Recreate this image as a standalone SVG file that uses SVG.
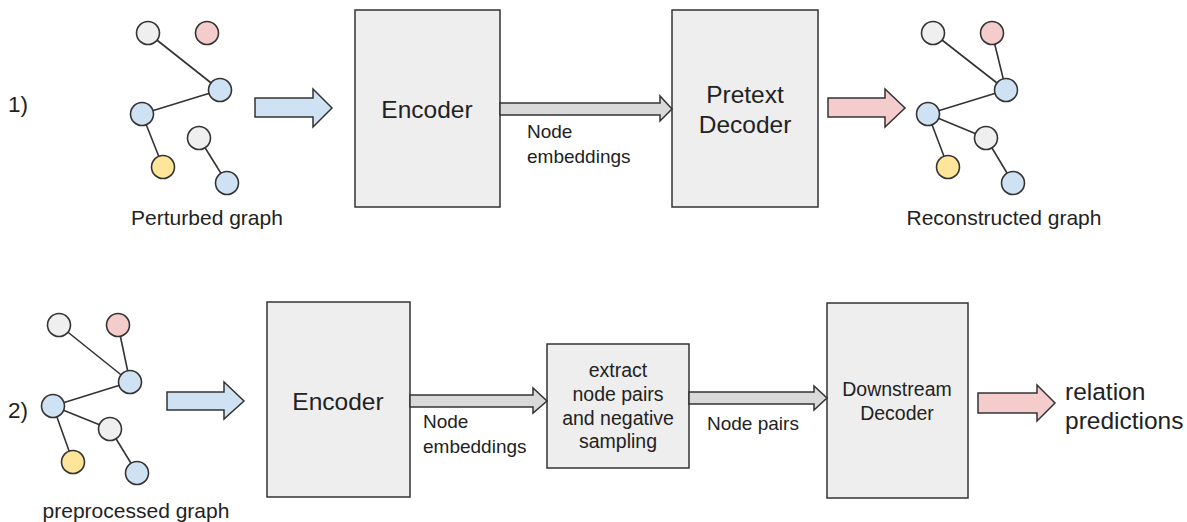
<svg xmlns="http://www.w3.org/2000/svg" width="1187" height="522" viewBox="0 0 1187 522">
<style>
text{font-family:"Liberation Sans",Arial,sans-serif;fill:#222}
.box{fill:#eeeeee;stroke:#333;stroke-width:1.5}
.n{stroke:#333;stroke-width:1.6}
.g{fill:#efefef}.b{fill:#cfe2f3}.p{fill:#f4cccc}.y{fill:#ffe599}
.e{stroke:#333;stroke-width:1.6;fill:none}
.ab{fill:#cfe2f3;stroke:#333;stroke-width:1.5}
.ap{fill:#f4cccc;stroke:#333;stroke-width:1.5}
.ag{fill:#d9d9d9;stroke:#333;stroke-width:1.5}
.big{font-size:24.5px}.mid{font-size:19px}.sm{font-size:19.5px}.lab{font-size:21px}
</style>
<rect width="1187" height="522" fill="#fff"/>

<text x="8" y="112" font-size="22.5">1)</text>
<text x="8" y="418" font-size="22.5">2)</text>

<g id="graph-perturbed">
<line class="e" x1="148" y1="33" x2="220" y2="90"/>
<line class="e" x1="220" y1="90" x2="142" y2="114"/>
<line class="e" x1="142" y1="114" x2="163" y2="167"/>
<line class="e" x1="199" y1="138" x2="227" y2="183"/>
<circle class="n g" cx="148" cy="33" r="11.5"/>
<circle class="n p" cx="207" cy="33" r="11.5"/>
<circle class="n b" cx="220" cy="90" r="11.5"/>
<circle class="n b" cx="142" cy="114" r="11.5"/>
<circle class="n g" cx="199" cy="138" r="11.5"/>
<circle class="n y" cx="163" cy="167" r="11.5"/>
<circle class="n b" cx="227" cy="183" r="11.5"/>
<text x="207" y="225" class="lab" text-anchor="middle">Perturbed graph</text>
</g>

<g id="encoder1">
<rect class="box" x="355" y="10" width="145" height="197"/>
<text x="427" y="118" class="big" text-anchor="middle">Encoder</text>
</g>

<g id="pretext-decoder">
<rect class="box" x="672" y="10" width="146" height="197"/>
<text x="745" y="103" class="big" text-anchor="middle">Pretext</text>
<text x="745" y="133" class="big" text-anchor="middle">Decoder</text>
</g>

<g id="graph-reconstructed">
<line class="e" x1="933" y1="33" x2="1006" y2="90"/>
<line class="e" x1="992" y1="33" x2="1006" y2="90"/>
<line class="e" x1="1006" y1="90" x2="928" y2="114"/>
<line class="e" x1="928" y1="114" x2="986" y2="138"/>
<line class="e" x1="928" y1="114" x2="948" y2="167"/>
<line class="e" x1="986" y1="138" x2="1013" y2="183"/>
<circle class="n g" cx="933" cy="33" r="11.5"/>
<circle class="n p" cx="992" cy="33" r="11.5"/>
<circle class="n b" cx="1006" cy="90" r="11.5"/>
<circle class="n b" cx="928" cy="114" r="11.5"/>
<circle class="n g" cx="986" cy="138" r="11.5"/>
<circle class="n y" cx="948" cy="167" r="11.5"/>
<circle class="n b" cx="1013" cy="183" r="11.5"/>
<text x="1004" y="225" class="lab" text-anchor="middle">Reconstructed graph</text>
</g>

<g id="graph-preprocessed">
<line class="e" x1="59" y1="325" x2="130" y2="382"/>
<line class="e" x1="118" y1="325" x2="130" y2="382"/>
<line class="e" x1="130" y1="382" x2="53" y2="406"/>
<line class="e" x1="53" y1="406" x2="110" y2="429"/>
<line class="e" x1="53" y1="406" x2="73" y2="462"/>
<line class="e" x1="110" y1="429" x2="137" y2="473"/>
<circle class="n g" cx="59" cy="325" r="11.5"/>
<circle class="n p" cx="118" cy="325" r="11.5"/>
<circle class="n b" cx="130" cy="382" r="11.5"/>
<circle class="n b" cx="53" cy="406" r="11.5"/>
<circle class="n g" cx="110" cy="429" r="11.5"/>
<circle class="n y" cx="73" cy="462" r="11.5"/>
<circle class="n b" cx="137" cy="473" r="11.5"/>
<text x="136" y="518" class="lab" text-anchor="middle">preprocessed graph</text>
</g>

<g id="encoder2">
<rect class="box" x="267" y="302" width="143" height="195"/>
<text x="338" y="410" class="big" text-anchor="middle">Encoder</text>
</g>

<g id="extract">
<rect class="box" x="547" y="344" width="142" height="124"/>
<text x="618" y="377" class="sm" text-anchor="middle">extract</text>
<text x="618" y="401" class="sm" text-anchor="middle">node pairs</text>
<text x="618" y="425" class="sm" text-anchor="middle">and negative</text>
<text x="618" y="448" class="sm" text-anchor="middle">sampling</text>
</g>

<g id="downstream-decoder">
<rect class="box" x="827" y="303" width="141" height="195"/>
<text x="897" y="396" class="sm" text-anchor="middle">Downstream</text>
<text x="897" y="420" class="sm" text-anchor="middle">Decoder</text>
</g>

<g id="connectors">
<polygon class="ab" points="255,98 313,98 313,89 332,108 313,127 313,117 255,117"/>
<polygon class="ag" points="500,103 660,103 660,96 672,109 660,121 660,115 500,115"/>
<text x="527" y="138" class="mid">Node</text>
<text x="527" y="163" class="mid">embeddings</text>
<polygon class="ap" points="828,98 885,98 885,89 905,108 885,127 885,117 828,117"/>

<polygon class="ab" points="167,392 224,392 224,382 244,401 224,419 224,410 167,410"/>
<polygon class="ag" points="410,395 533,395 533,388 547,401 533,413 533,407 410,407"/>
<text x="423" y="428" class="mid">Node</text>
<text x="423" y="453" class="mid">embeddings</text>
<polygon class="ag" points="689,392 814,392 814,386 827,398 814,410 814,404 689,404"/>
<text x="707" y="430" class="mid">Node pairs</text>
<polygon class="ap" points="978,393 1037,393 1037,385 1055,403 1037,421 1037,413 978,413"/>
<text x="1065" y="400" font-size="24.5">relation</text>
<text x="1065" y="429" font-size="24.5">predictions</text>
</g>
</svg>
